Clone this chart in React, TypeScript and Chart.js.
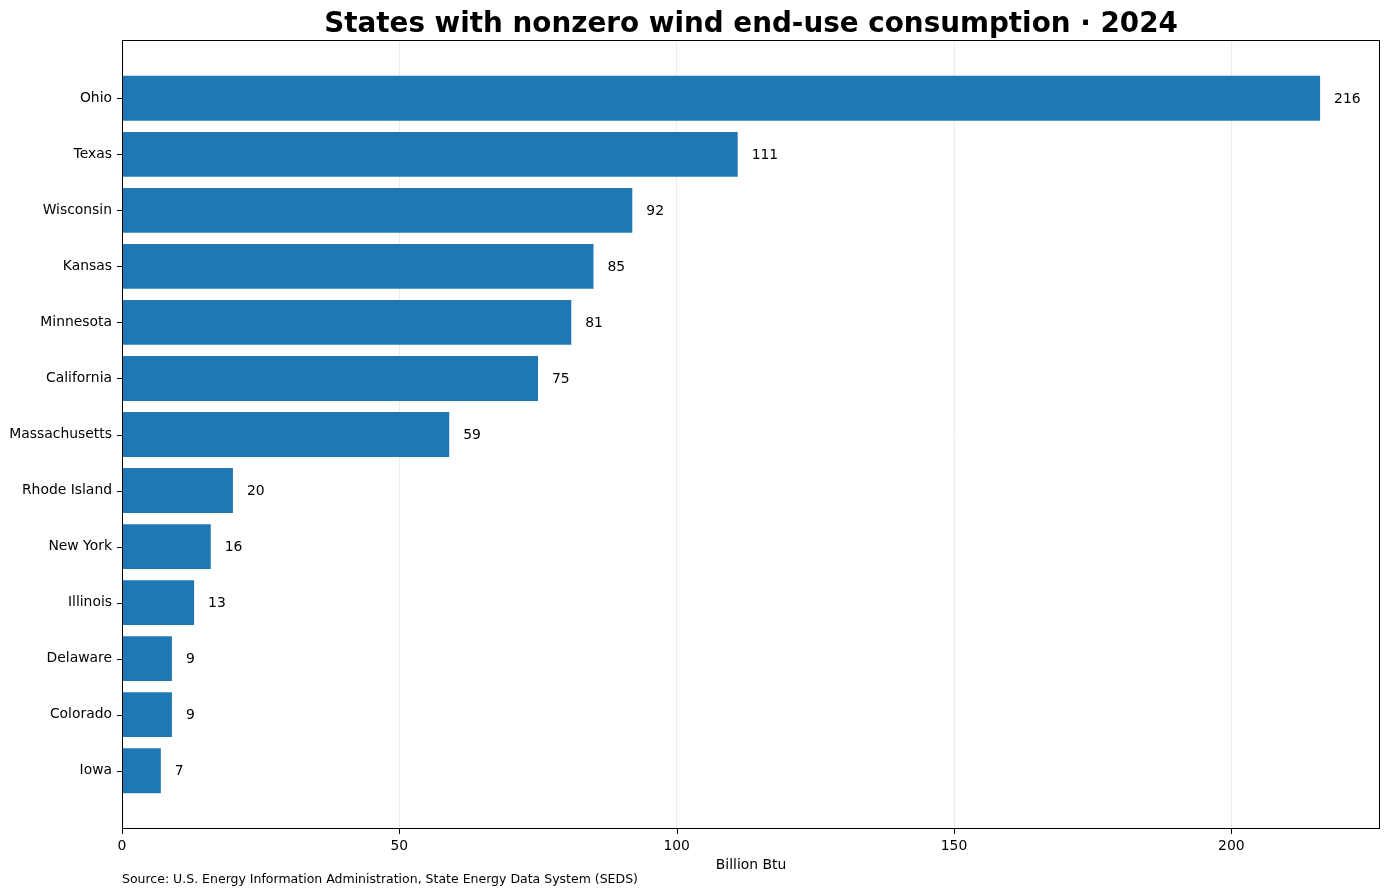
import { useEffect, useRef } from "react";
import { Chart, registerables } from "chart.js";

Chart.register(...registerables);

const states = [
  "Ohio", "Texas", "Wisconsin", "Kansas", "Minnesota", "California", "Massachusetts",
  "Rhode Island", "New York", "Illinois", "Delaware", "Colorado", "Iowa",
];
const consumption = [216, 111, 92, 85, 81, 75, 59, 20, 16, 13, 9, 9, 7];
const xTicks = [0, 50, 100, 150, 200];

const TITLE = "States with nonzero wind end-use consumption · 2024";
const X_TITLE = "Billion Btu";
const SOURCE = "Source: U.S. Energy Information Administration, State Energy Data System (SEDS)";
const FONT = "'DejaVu Sans', sans-serif";

// draws the box, tick marks, value labels, title and footnote like the matplotlib original
const decorations = {
  id: "decorations",
  afterDatasetsDraw(chart: Chart) {
    const { ctx, chartArea } = chart;
    const xScale = chart.scales.x;
    const yScale = chart.scales.y;
    const meta = chart.getDatasetMeta(0);
    ctx.save();
    ctx.fillStyle = "#000";
    ctx.font = `13.9px ${FONT}`;
    ctx.textAlign = "left";
    ctx.textBaseline = "middle";
    meta.data.forEach((bar: any, i) => {
      ctx.fillText(String(consumption[i]), bar.x + 14, bar.y + 1);
    });

    ctx.strokeStyle = "#000";
    ctx.lineWidth = 1;
    ctx.strokeRect(chartArea.left + 0.5, chartArea.top + 0.5, chartArea.width - 1, chartArea.height - 1);

    // outward tick marks
    ctx.beginPath();
    xTicks.forEach((v) => {
      const px = Math.round(xScale.getPixelForValue(v)) + 0.5;
      ctx.moveTo(px, chartArea.bottom);
      ctx.lineTo(px, chartArea.bottom + 5);
    });
    states.forEach((_, i) => {
      const py = Math.round(yScale.getPixelForValue(i)) + 0.5;
      ctx.moveTo(chartArea.left - 5, py);
      ctx.lineTo(chartArea.left, py);
    });
    ctx.stroke();

    const cx = (chartArea.left + chartArea.right) / 2;
    ctx.textAlign = "center";
    ctx.textBaseline = "alphabetic";
    ctx.font = `bold 27.8px ${FONT}`;
    ctx.fillText(TITLE, cx, 32);
    ctx.textBaseline = "middle";
    ctx.font = `13.9px ${FONT}`;
    ctx.fillText(X_TITLE, cx, 865);
    ctx.textAlign = "left";
    ctx.font = `12.5px ${FONT}`;
    ctx.fillText(SOURCE, chartArea.left, 880);
    ctx.restore();
  },
};

export default function App() {
  const canvasRef = useRef<HTMLCanvasElement>(null);

  useEffect(() => {
    document.body.style.margin = "0";
    if (!canvasRef.current) return;

    const chart = new Chart(canvasRef.current, {
      type: "bar",
      data: {
        datasets: [{
          data: consumption.map((v, i) => ({ x: v, y: i })),
          backgroundColor: "#1f77b4",
          borderWidth: 0,
          barPercentage: 0.8,
          categoryPercentage: 1,
        }],
      },
      options: {
        indexAxis: "y",
        animation: false,
        responsive: false,
        layout: { padding: { top: 40, right: 9, bottom: 0, left: 0 } },
        plugins: { legend: { display: false }, tooltip: { enabled: false } },
        scales: {
          x: {
            type: "linear",
            min: 0,
            max: 226.8,
            afterBuildTicks: (scale: any) => {
              scale.ticks = xTicks.map((v) => ({ value: v }));
            },
            afterFit: (scale: any) => {
              scale.height = 67;
            },
            grid: { color: "#ebebeb", drawTicks: false },
            border: { display: false },
            ticks: { color: "#000", font: { family: FONT, size: 13.9 }, padding: 9, maxRotation: 0 },
          },
          y: {
            type: "linear",
            reverse: true,
            offset: false,
            min: -1.04,
            max: 13.04,
            afterBuildTicks: (scale: any) => {
              scale.ticks = states.map((_, i) => ({ value: i }));
            },
            afterFit: (scale: any) => {
              scale.width = 122;
            },
            grid: { offset: false, drawOnChartArea: false, drawTicks: false },
            border: { display: false },
            ticks: {
              color: "#000",
              font: { family: FONT, size: 13.9 },
              padding: 10,
              callback: (v: any) => states[v as number] ?? "",
            },
          },
        },
      },
      plugins: [decorations],
    });

    return () => chart.destroy();
  }, []);

  return <canvas ref={canvasRef} width={1389} height={896} style={{ display: "block" }} />;
}
